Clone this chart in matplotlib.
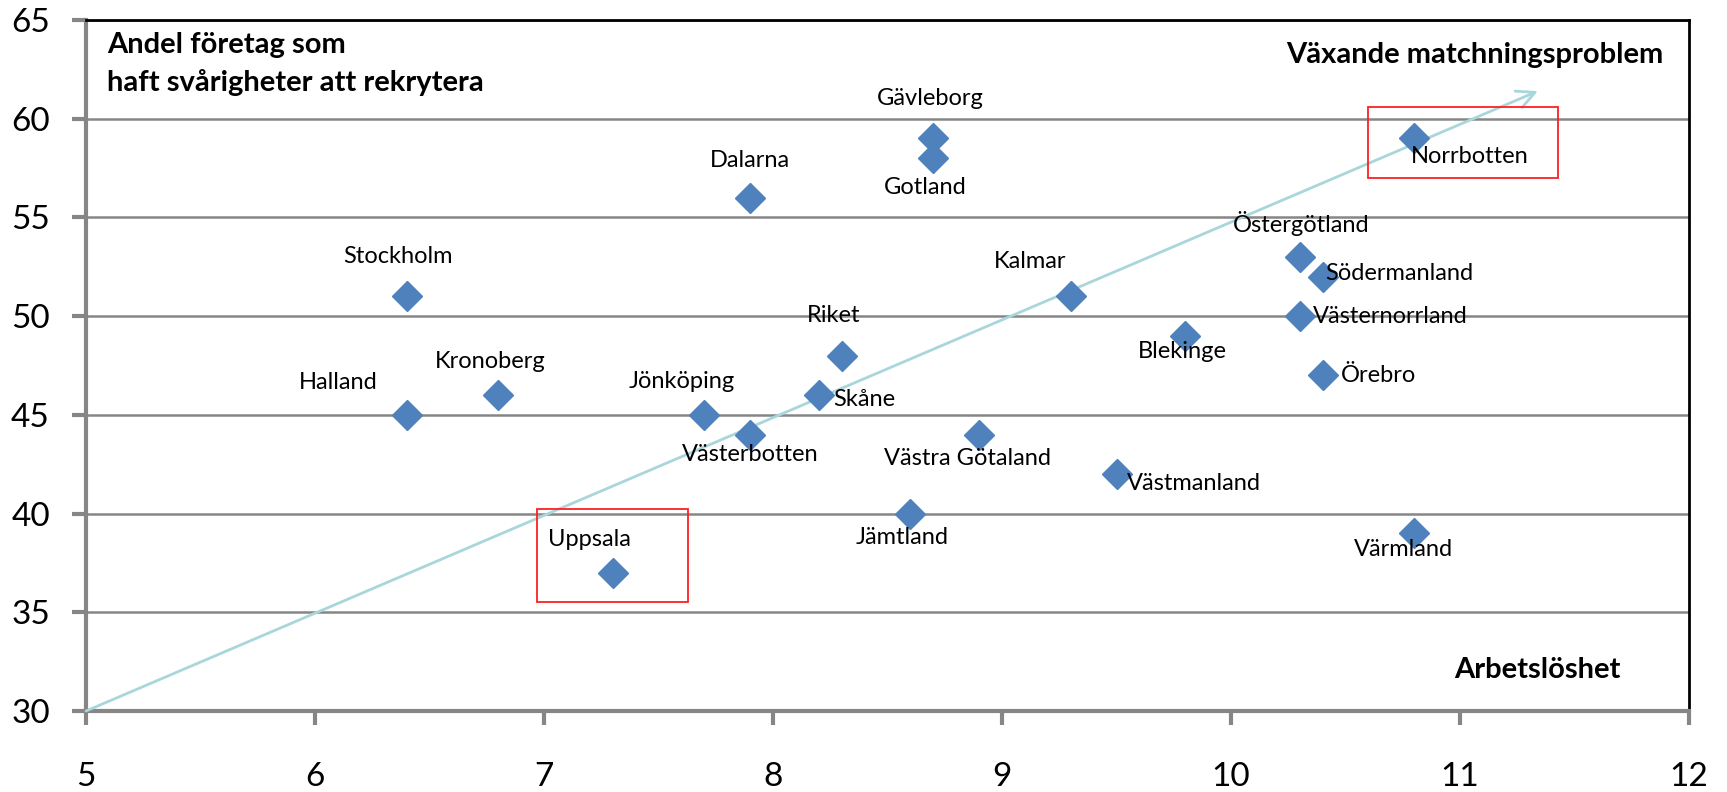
import matplotlib
matplotlib.use('Agg')
import matplotlib.pyplot as plt
from matplotlib.patches import Rectangle

# Data: unemployment (x) vs share of firms with
# recruitment difficulties (y), per county.
regions = ['Stockholm', 'Halland', 'Kronoberg', 'Uppsala', 'Jönköping',
           'Västerbotten', 'Dalarna', 'Skåne', 'Riket', 'Gävleborg',
           'Gotland', 'Jämtland', 'Västra Götaland', 'Kalmar',
           'Västmanland', 'Blekinge', 'Östergötland', 'Södermanland',
           'Västernorrland', 'Örebro', 'Värmland', 'Norrbotten']
unemployment = [6.4, 6.4, 6.8, 7.3, 7.7, 7.9, 7.9, 8.2, 8.3, 8.7, 8.7, 8.6,
                8.9, 9.3, 9.5, 9.8, 10.3, 10.4, 10.3, 10.4, 10.8, 10.8]
recruitShare = [51, 45, 46, 37, 45, 44, 56, 46, 48, 59, 58, 40, 44, 51, 42,
                49, 53, 52, 50, 47, 39, 59]

xTicks = [5, 6, 7, 8, 9, 10, 11, 12]
yTicks = [30, 35, 40, 45, 50, 55, 60, 65]

# Highlighted regions (boxes) and the trend arrow.
boxRegions = ['Uppsala', 'Norrbotten']
arrowStart = (5, 30)
arrowEnd = (11.34, 61.4)


def plotChart():
    plt.rcParams['font.family'] = ['Lato', 'DejaVu Sans']

    fig = plt.figure(figsize=(17.27, 7.92), dpi=100)
    ax = fig.add_axes([0.0498, 0.1023, 0.9282, 0.8724])

    # Label offsets in points (label centre relative to marker).
    offsets = {'Stockholm': (-6, 29), 'Halland': (-49, 23),
               'Kronoberg': (-6, 24), 'Uppsala': (-17, 24),
               'Jönköping': (-16, 24), 'Västerbotten': (0, -14),
               'Dalarna': (0, 27), 'Skåne': (33, -3), 'Riket': (-6, 29),
               'Gävleborg': (-2, 29), 'Gotland': (-6, -21),
               'Jämtland': (-6, -17), 'Västra Götaland': (-8, -17),
               'Kalmar': (-29, 25), 'Västmanland': (56, -7),
               'Blekinge': (-2, -11), 'Östergötland': (1, 24),
               'Södermanland': (55, 2), 'Västernorrland': (65, 0),
               'Örebro': (40, 0), 'Värmland': (-8, -12),
               'Norrbotten': (40, -13)}

    # Trend arrow drawn first so markers sit on top.
    ax.annotate('', xy=arrowEnd, xytext=arrowStart,
                arrowprops=dict(arrowstyle='->', color='#A9D6DB', lw=2,
                                mutation_scale=32, shrinkA=0, shrinkB=0))

    ax.plot(unemployment, recruitShare, linestyle='None', marker='D',
            markersize=15, color='#4F81BD', zorder=4)

    for name, x, y in zip(regions, unemployment, recruitShare):
        dx, dy = offsets[name]
        ax.annotate(name, (x, y), xytext=(dx, dy), textcoords='offset points',
                    ha='center', va='center', fontsize=17, color='black',
                    zorder=5)

    # Red boxes round the two highlighted regions.
    boxPad = {'Uppsala': (-0.33, -1.5, 0.66, 4.75),
              'Norrbotten': (-0.2, -2.0, 0.83, 3.6)}
    for name in boxRegions:
        i = regions.index(name)
        bx, by, bw, bh = boxPad[name]
        ax.add_patch(Rectangle((unemployment[i] + bx, recruitShare[i] + by),
                               bw, bh, fill=False, edgecolor='#FF2020',
                               lw=1.3, zorder=3))

    ax.set_xlim(5, 12)
    ax.set_ylim(30, 65)
    ax.set_xticks(xTicks)
    ax.set_yticks(yTicks)
    ax.yaxis.grid(True, color='#868686', lw=1.8)
    ax.set_axisbelow(True)

    for side in ['left', 'bottom']:
        ax.spines[side].set_color('#868686')
        ax.spines[side].set_linewidth(3)
    for side in ['top', 'right']:
        ax.spines[side].set_color('black')
        ax.spines[side].set_linewidth(2)

    ax.tick_params(axis='both', direction='out', length=10, width=3,
                   color='#868686', labelsize=24)
    ax.tick_params(axis='x', pad=27)
    ax.tick_params(axis='y', pad=16)

    ax.text(0.013, 0.982, 'Andel företag som\nhaft svårigheter att rekrytera',
            transform=ax.transAxes, ha='left', va='top', fontsize=21,
            fontweight='bold', linespacing=1.5)
    ax.text(0.984, 0.949, 'Växande matchningsproblem',
            transform=ax.transAxes, ha='right', va='center', fontsize=21,
            fontweight='bold')
    ax.text(0.957, 0.06, 'Arbetslöshet', transform=ax.transAxes,
            ha='right', va='center', fontsize=21, fontweight='bold')

    fig.savefig('out.png', dpi=100)


if __name__ == "__main__":
    plotChart()
